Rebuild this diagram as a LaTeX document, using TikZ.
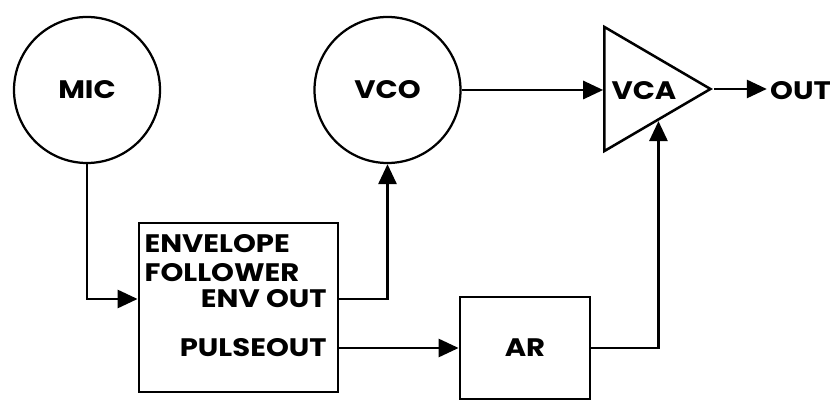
\documentclass[tikz,border=0pt]{standalone}
\usepackage{fontspec}
\setmainfont{Poppins}[FakeStretch=1.15]
\usetikzlibrary{arrows.meta,calc,shapes.geometric}

\begin{document}
\begin{tikzpicture}[
  font=\bfseries\fontsize{18}{20.5}\selectfont,
  line width=2pt,
  circ/.style={circle, draw, line width=1.6pt, minimum size=3.65cm, inner sep=0pt},
  block/.style={draw, line width=2pt, inner sep=0pt},
  amp/.style={isosceles triangle, isosceles triangle stretches, draw, line width=1.8pt,
    minimum width=3.1cm, minimum height=2.65cm, inner sep=0pt},
  lbl/.style={inner sep=0pt},
  arr/.style={-{Triangle[length=5mm, width=4.5mm]}},
]
  \useasboundingbox (0,0) rectangle (20.85,10.025);

  \node[circ] (mic) at (2.175,7.775) {MIC};
  \node[circ] (vco) at (9.6875,7.775) {VCO};
  \node[amp] (vca) at (16.0,7.8) {};
  \node[lbl] at (16.1,7.75) {VCA};
  \node[lbl, anchor=west] (out) at (19.22,7.75) {OUT};

  \node[block, minimum width=4.975cm, minimum height=4.225cm] (env) at (5.9625,2.3375) {};
  \node[lbl, anchor=north west, align=left] (envname) at (3.58,4.2)
    {ENVELOPE\\FOLLOWER};
  \node[lbl, anchor=east] (envout) at (8.2,2.55) {ENV OUT};
  \node[lbl, anchor=east] (pulse) at (8.2,1.325) {PULSEOUT};

  \node[block, minimum width=3.25cm, minimum height=2.55cm] (ar) at (13.125,1.325) {AR};

  \coordinate (vcain) at ($(vca.apex)!0.5!(vca.right corner)$);

  \draw[arr] (mic.south) |- (env.west |- envout);
  \draw[arr] (env.east |- envout) -| (vco.south);
  \draw[arr] (env.east |- pulse) -- (ar.west);
  \draw[arr] (ar.east) -| (vcain);
  \draw[arr] (vco.east) -- (vco.east -| vca.left corner);
  \draw[arr] (vca.apex) -- ([xshift=-0.5mm]vca.apex -| out.west);
\end{tikzpicture}
\end{document}
